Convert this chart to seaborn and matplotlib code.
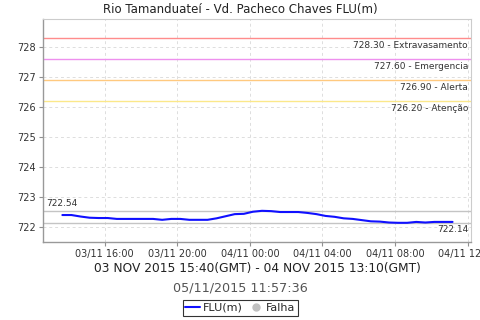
import matplotlib
matplotlib.use("Agg")
import matplotlib.pyplot as plt
import matplotlib.dates as mdates
from matplotlib.lines import Line2D
import seaborn as sns
import pandas as pd
import numpy as np

sns.set_theme(style="white")
plt.rcParams['font.family'] = ['DejaVu Sans']

title = "Rio Tamanduateí - Vd. Pacheco Chaves FLU(m)"
xlabel = "03 NOV 2015 15:40(GMT) - 04 NOV 2015 13:10(GMT)"
subtitle = "05/11/2015 11:57:36"

start_time = "2015-11-03 13:40"
levels = [722.40, 722.40, 722.35, 722.31, 722.30, 722.30, 722.27, 722.27, 722.27, 722.27,
          722.27, 722.24, 722.27, 722.27, 722.24, 722.24, 722.24, 722.29, 722.36, 722.43,
          722.44, 722.51, 722.54, 722.53, 722.50, 722.50, 722.50, 722.47, 722.43, 722.37,
          722.34, 722.29, 722.27, 722.23, 722.19, 722.18, 722.15, 722.14, 722.14, 722.17,
          722.15, 722.17, 722.17, 722.17]
times = pd.date_range(start_time, periods=len(levels), freq="30min")

thresholds = [728.30, 727.60, 726.90, 726.20]
threshold_names = ["Extravasamento", "Emergencia", "Alerta", "Atenção"]
threshold_colors = ["#ff8c8c", "#ee90ee", "#ffc97f", "#fbe88a"]

max_val = 722.54
min_val = 722.14

df = pd.DataFrame({"time": times, "FLU(m)": levels})

fig = plt.figure(figsize=(4.8, 3.2), dpi=100)
ax = fig.add_axes([43/480, 1-242/320, (471-43)/480, (242-19)/320])

x0 = pd.Timestamp("2015-11-03 12:36")
x1 = pd.Timestamp("2015-11-04 12:11")

for v, c in zip(thresholds, threshold_colors):
    ax.axhline(v, color=c, lw=1.0, zorder=2)
ax.axhline(max_val, color="#c4c4c4", lw=1.0, zorder=2)
ax.axhline(min_val, color="#c4c4c4", lw=1.0, zorder=2)

sns.lineplot(data=df, x="time", y="FLU(m)", ax=ax, color="#1010ff", lw=1.5,
             zorder=3, legend=False)

ax.set_xlim(x0, x1)
ax.set_ylim(721.5, 728.94)
ax.set_yticks([722, 723, 724, 725, 726, 727, 728])
ax.xaxis.set_major_locator(mdates.HourLocator(byhour=[0, 4, 8, 12, 16, 20]))
ax.xaxis.set_major_formatter(mdates.DateFormatter("%d/%m %H:%M"))
ax.grid(True, color="#dddddd", ls=(0, (3, 3)), lw=0.7)
ax.tick_params(axis="both", labelsize=7, length=3, width=0.8, color="#909090",
               colors="#333333", direction="out", pad=2)
ax.tick_params(axis="both", which="both", bottom=True, left=True)
ax.set_ylabel("")
ax.set_xlabel(xlabel, fontsize=8.8, color="#222222", labelpad=2)
for s in ["left", "bottom"]:
    ax.spines[s].set_color("#999999")
    ax.spines[s].set_linewidth(1.0)
for s in ["top", "right"]:
    ax.spines[s].set_color("#cccccc")
    ax.spines[s].set_linewidth(0.8)

trans = ax.get_yaxis_transform()
for v, n in zip(thresholds, threshold_names):
    ax.text(0.993, v - 0.08, f"{v:.2f} - {n}", transform=trans, ha="right", va="top",
            fontsize=6.5, color="#333333")
ax.text(0.008, max_val + 0.08, f"{max_val:.2f}", transform=trans, ha="left", va="bottom",
        fontsize=6.5, color="#333333")
ax.text(0.993, min_val - 0.08, f"{min_val:.2f}", transform=trans, ha="right", va="top",
        fontsize=6.5, color="#333333")

fig.text(240/480, 1-9/320, title, ha="center", va="center", fontsize=8.5, color="#222222")
fig.text(240/480, 1-288/320, subtitle, ha="center", va="center", fontsize=9.2, color="#555555")

handles = [Line2D([0], [0], color="#1010ff", lw=1.5),
           Line2D([0], [0], marker="o", color="none", markerfacecolor="#c0c0c0",
                  markeredgecolor="#c0c0c0", markersize=5)]
leg = fig.legend(handles, ["FLU(m)", "Falha"], loc="center", bbox_to_anchor=(240.5/480, 1-308/320),
                 ncol=2, fontsize=8, frameon=True, fancybox=False, handlelength=1.3,
                 handletextpad=0.3, columnspacing=0.5, borderpad=0.25, borderaxespad=0)
leg.get_frame().set_edgecolor("black")
leg.get_frame().set_linewidth(0.8)

fig.savefig("out.png", dpi=100)
